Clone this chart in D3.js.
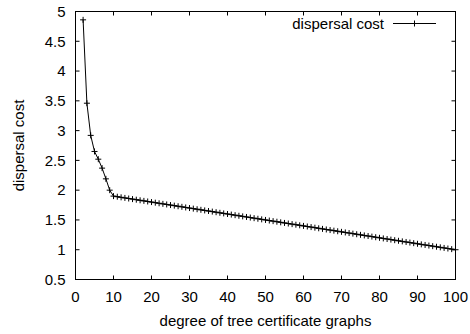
<!DOCTYPE html>
<html><head><meta charset="utf-8">
<script src="https://cdn.jsdelivr.net/npm/d3@7"></script>
<style>body{margin:0;background:#fff}svg{display:block}text{font-family:"Liberation Sans",Arial,sans-serif;fill:#000}</style>
</head><body><svg id="c" width="470" height="334"></svg>
<script>
const degrees = [2,3,4,5,6,7,8,9,10,11,12,13,14,15,16,17,18,19,20,21,22,23,24,25,26,27,28,29,30,31,32,33,34,35,36,37,38,39,40,41,42,43,44,45,46,47,48,49,50,51,52,53,54,55,56,57,58,59,60,61,62,63,64,65,66,67,68,69,70,71,72,73,74,75,76,77,78,79,80,81,82,83,84,85,86,87,88,89,90,91,92,93,94,95,96,97,98,99,100];
const costs = [4.86,3.46,2.92,2.65,2.52,2.37,2.19,2.00,1.90,1.89,1.88,1.87,1.86,1.85,1.84,1.83,1.82,1.81,1.80,1.79,1.78,1.77,1.76,1.75,1.74,1.73,1.72,1.71,1.70,1.69,1.68,1.67,1.66,1.65,1.64,1.63,1.62,1.61,1.60,1.59,1.58,1.57,1.56,1.55,1.54,1.53,1.52,1.51,1.50,1.49,1.48,1.47,1.46,1.45,1.44,1.43,1.42,1.41,1.40,1.39,1.38,1.37,1.36,1.35,1.34,1.33,1.32,1.31,1.30,1.29,1.28,1.27,1.26,1.25,1.24,1.23,1.22,1.21,1.20,1.19,1.18,1.17,1.16,1.15,1.14,1.13,1.12,1.11,1.10,1.09,1.08,1.07,1.06,1.05,1.04,1.03,1.02,1.01,1.00];
const xTicks = [0,10,20,30,40,50,60,70,80,90,100];
const yTicks = [0.5,1,1.5,2,2.5,3,3.5,4,4.5,5];
const seriesName = "dispersal cost";
const xTitle = "degree of tree certificate graphs";
const yTitle = "dispersal cost";

const L=75.5, R=455.5, T=11.5, B=279.5;
const svg = d3.select("#c");
const x = d3.scaleLinear().domain([0,100]).range([L,R]);
const y = d3.scaleLinear().domain([0.5,5]).range([B,T]);
const tl = 4, fs = 15;

// inward ticks on all four sides
const g = svg.append("g");
g.selectAll(".xb").data(xTicks).join("line").attr("x1",d=>x(d)).attr("x2",d=>x(d)).attr("y1",B).attr("y2",B-tl).attr("stroke","#000");
g.selectAll(".xt").data(xTicks).join("line").attr("x1",d=>x(d)).attr("x2",d=>x(d)).attr("y1",T).attr("y2",T+tl).attr("stroke","#000");
g.selectAll(".yl").data(yTicks).join("line").attr("y1",d=>y(d)).attr("y2",d=>y(d)).attr("x1",L).attr("x2",L+tl).attr("stroke","#000");
g.selectAll(".yr").data(yTicks).join("line").attr("y1",d=>y(d)).attr("y2",d=>y(d)).attr("x1",R).attr("x2",R-tl).attr("stroke","#000");
svg.append("rect").attr("x",L).attr("y",T).attr("width",R-L).attr("height",B-T).attr("fill","none").attr("stroke","#000");

svg.selectAll(".xl").data(xTicks).join("text").attr("x",d=>x(d)).attr("y",301.5).attr("text-anchor","middle").attr("font-size",fs).text(d=>d);
svg.selectAll(".ylab").data(yTicks).join("text").attr("x",65.5).attr("y",d=>y(d)+5.3).attr("text-anchor","end").attr("font-size",fs).text(d=>d);

svg.append("text").attr("x",(L+R)/2).attr("y",325.5).attr("text-anchor","middle").attr("font-size",fs).text(xTitle);
svg.append("text").attr("transform",`translate(24,${(T+B)/2}) rotate(-90)`).attr("text-anchor","middle").attr("font-size",fs).text(yTitle);

const data = degrees.map((d,i)=>({d, c:costs[i]}));
const line = d3.line().x(p=>x(p.d)).y(p=>y(p.c));
svg.append("path").datum(data).attr("d",line).attr("fill","none").attr("stroke","#000").attr("stroke-width",1);
const ms=3;
const mk = svg.append("g").attr("stroke","#000").attr("stroke-width",1);
data.forEach(p=>{
  mk.append("line").attr("x1",x(p.d)-ms).attr("x2",x(p.d)+ms).attr("y1",y(p.c)).attr("y2",y(p.c));
  mk.append("line").attr("x1",x(p.d)).attr("x2",x(p.d)).attr("y1",y(p.c)-ms).attr("y2",y(p.c)+ms);
});

// legend
const ly = 23.5;
svg.append("text").attr("x",384).attr("y",ly+5).attr("text-anchor","end").attr("font-size",fs).text(seriesName);
svg.append("line").attr("x1",393).attr("x2",436).attr("y1",ly).attr("y2",ly).attr("stroke","#000");
svg.append("line").attr("x1",414.5-ms).attr("x2",414.5+ms).attr("y1",ly).attr("y2",ly).attr("stroke","#000");
svg.append("line").attr("x1",414.5).attr("x2",414.5).attr("y1",ly-ms).attr("y2",ly+ms).attr("stroke","#000");
</script></body></html>
